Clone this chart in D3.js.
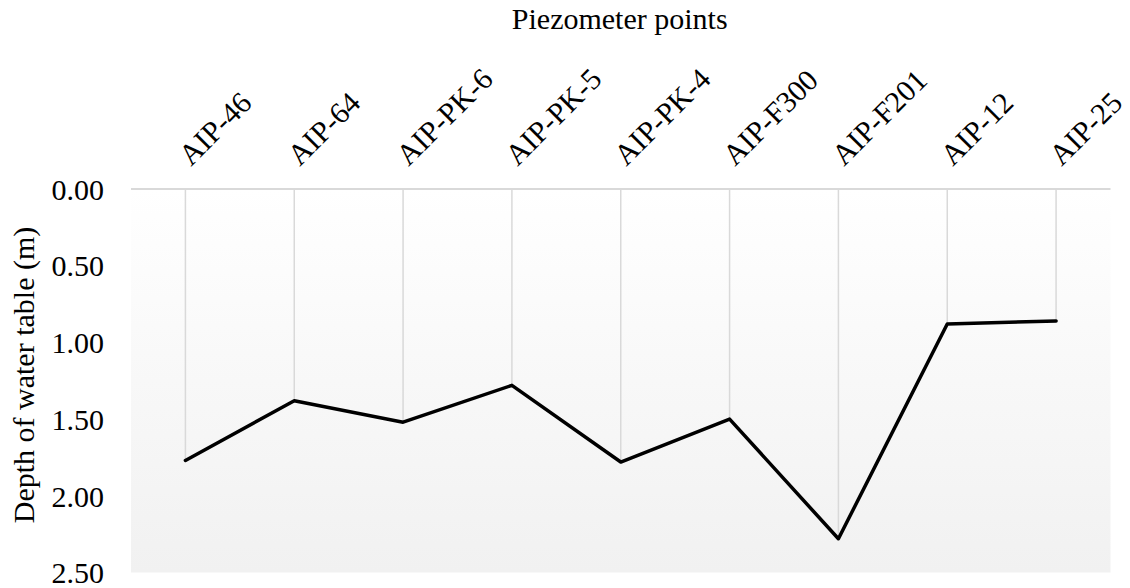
<!DOCTYPE html>
<html>
<head>
<meta charset="utf-8">
<script src="https://cdn.jsdelivr.net/npm/d3@7"></script>
</head>
<body style="margin:0;padding:0;background:#ffffff">
<svg id="chart" width="1130" height="588" style="display:block"></svg>
<script>
// ---- data ----
const categories = ["AIP-46", "AIP-64", "AIP-PK-6", "AIP-PK-5", "AIP-PK-4", "AIP-F300", "AIP-F201", "AIP-12", "AIP-25"];
const depths = [1.77, 1.38, 1.52, 1.28, 1.78, 1.50, 2.28, 0.88, 0.86];
const yTicks = [0, 0.5, 1.0, 1.5, 2.0, 2.5];
const chartTitle = "Piezometer points";
const yTitle = "Depth of water table (m)";

const FONT = "'Liberation Serif'";

// ---- layout ----
const svg = d3.select("#chart");
const plot = { left: 131, right: 1110.5, top: 189, bottom: 572.5 };

const x = d3.scaleBand().domain(categories).range([plot.left, plot.right]).padding(0);
const y = d3.scaleLinear().domain([0, 2.5]).range([plot.top, plot.bottom]);

// gradient background
const defs = svg.append("defs");
const grad = defs.append("linearGradient").attr("id", "bg").attr("x1", 0).attr("y1", 0).attr("x2", 0).attr("y2", 1);
grad.append("stop").attr("offset", "0%").attr("stop-color", "#ffffff");
grad.append("stop").attr("offset", "100%").attr("stop-color", "#f1f1f1");

svg.append("rect")
  .attr("x", plot.left).attr("y", plot.top)
  .attr("width", plot.right - plot.left).attr("height", plot.bottom - plot.top)
  .attr("fill", "url(#bg)");

// top axis line (at 0)
svg.append("line")
  .attr("x1", plot.left).attr("x2", plot.right)
  .attr("y1", y(0)).attr("y2", y(0))
  .attr("stroke", "#d9d9d9").attr("stroke-width", 2);

// drop lines
const cx = d => x(d) + x.bandwidth() / 2;
svg.append("g").selectAll("line").data(categories).join("line")
  .attr("x1", d => cx(d)).attr("x2", d => cx(d))
  .attr("y1", y(0)).attr("y2", (d, i) => y(depths[i]))
  .attr("stroke", "#d9d9d9").attr("stroke-width", 1.5);

// line series
const line = d3.line().x((d, i) => cx(categories[i])).y(d => y(d));
svg.append("path").datum(depths)
  .attr("d", line)
  .attr("fill", "none").attr("stroke", "#000").attr("stroke-width", 3.5)
  .attr("stroke-linejoin", "round").attr("stroke-linecap", "round");

// y axis labels
const yAxis = d3.axisLeft(y).tickValues(yTicks).tickFormat(d3.format(".2f")).tickSize(0).tickPadding(0);
const ya = svg.append("g").attr("transform", `translate(104,0)`).call(yAxis);
ya.select(".domain").remove();
ya.selectAll("text")
  .style("font-family", FONT).style("font-size", "30px")
  .attr("fill", "#000").attr("dy", "0.34em");

// category labels (top, rotated)
const xAxis = d3.axisTop(x).tickSize(0).tickPadding(0);
const xa = svg.append("g").attr("transform", `translate(0,${plot.top})`).call(xAxis);
xa.select(".domain").remove();
xa.selectAll("text")
  .style("font-family", FONT).style("font-size", "30px")
  .attr("fill", "#000")
  .attr("text-anchor", "start")
  .attr("x", 0).attr("y", 0).attr("dy", 0)
  .attr("transform", "translate(5.5,-22) rotate(-45)");

// chart title
svg.append("text")
  .attr("x", 619.7).attr("y", 29)
  .attr("text-anchor", "middle")
  .style("font-family", FONT).style("font-size", "30px")
  .attr("fill", "#000")
  .text(chartTitle);

// y title
svg.append("text")
  .attr("transform", `translate(33.5,375) rotate(-90)`)
  .attr("text-anchor", "middle")
  .style("font-family", FONT).style("font-size", "30px")
  .attr("fill", "#000")
  .text(yTitle);
</script>
</body>
</html>
